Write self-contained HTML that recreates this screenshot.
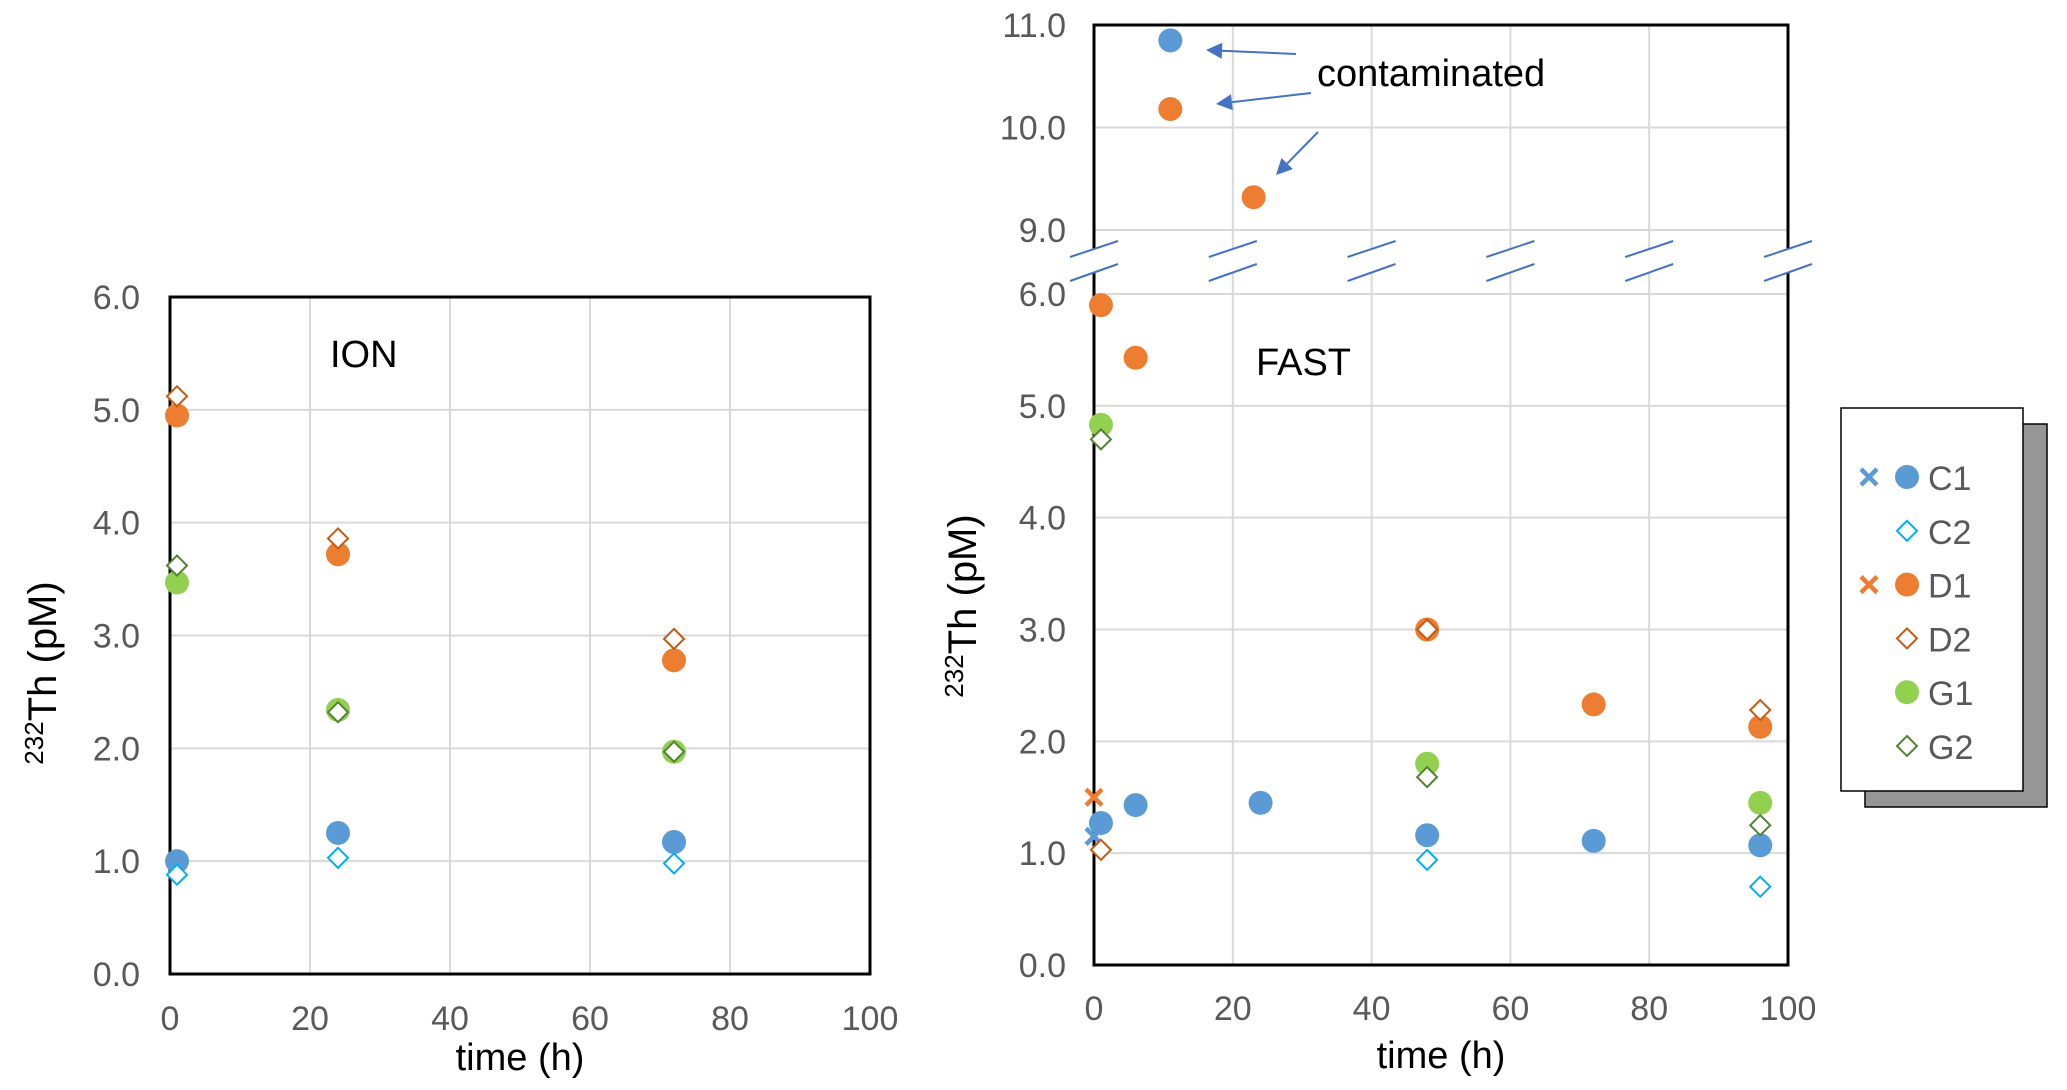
<!DOCTYPE html>
<html><head><meta charset="utf-8"><style>
html,body{margin:0;padding:0;background:#fff}
svg{display:block;font-family:"Liberation Sans",sans-serif}
</style></head><body>
<svg id="chart" width="2067" height="1090" viewBox="0 0 2067 1090" xmlns="http://www.w3.org/2000/svg">
<g id="ion"></g>
<g id="fast"></g>
<g id="legend"></g>
</svg>
<script>
const xTicks=[0,20,40,60,80,100];
const ionYTicks=[0,1,2,3,4,5,6];
const ionTimes=[1,24,72];
const ionC1=[1.0,1.25,1.17];
const ionC2=[0.88,1.03,0.98];
const ionD1=[4.95,3.72,2.78];
const ionD2=[5.12,3.86,2.97];
const ionG1=[3.47,2.34,1.97];
const ionG2=[3.62,2.32,1.97];

const fastYTicksLow=[0,1,2,3,4,5,6];
const fastYTicksHigh=[9,10,11];
const fastC1Times=[1,6,11,24,48,72,96];
const fastC1=[1.27,1.43,10.85,1.45,1.16,1.11,1.07];
const fastD1Times=[1,6,11,23,48,72,96];
const fastD1=[5.9,5.43,10.18,9.32,3.0,2.33,2.13];
const fastC1xTimes=[0];
const fastC1x=[1.15];
const fastD1xTimes=[0];
const fastD1x=[1.5];
const fastC2Times=[48,96];
const fastC2=[0.94,0.70];
const fastD2Times=[1,48,96];
const fastD2=[1.03,3.0,2.28];
const fastG1Times=[1,48,96];
const fastG1=[4.83,1.8,1.45];
const fastG2Times=[1,48,96];
const fastG2=[4.7,1.68,1.25];

const BLUE='#5b9bd5',LBLUE='#00b0f0',ORANGE='#ed7d31',DORANGE='#c55a11',GREEN='#92d050',DGREEN='#548235';
const NS='http://www.w3.org/2000/svg';
function mk(parent,tag,attrs,text){const e=document.createElementNS(NS,tag);for(const k in attrs)e.setAttribute(k,attrs[k]);if(text!==undefined)e.textContent=text;parent.appendChild(e);return e;}

function circle(g,x,y,c,name){const e=mk(g,'circle',{cx:x,cy:y,r:12,fill:c});

}
function diamond(g,x,y,c,name){const s=10;const e=mk(g,'polygon',{points:`${x},${y-s} ${x+s},${y} ${x},${y+s} ${x-s},${y}`,fill:'#fff',stroke:c,'stroke-width':2});

}
function cross(g,x,y,c,name){const s=8;const e=mk(g,'path',{d:`M${x-s},${y-s}L${x+s},${y+s}M${x-s},${y+s}L${x+s},${y-s}`,stroke:c,'stroke-width':4.5});

}

/* ION panel */
(function(){
const g=document.getElementById('ion');
const L=170,R=870,T=297,B=974;
const X=v=>L+(R-L)*v/100, Y=v=>B-(B-T)*v/6;
xTicks.forEach(t=>{if(t>0&&t<100){const l=mk(g,'line',{x1:X(t),x2:X(t),y1:T,y2:B,stroke:'#d9d9d9','stroke-width':2});

}
const tx=mk(g,'text',{x:X(t),y:B+56,'text-anchor':'middle','font-size':34,fill:'#595959'},t);

});
ionYTicks.forEach(t=>{if(t>0&&t<6){const l=mk(g,'line',{x1:L,x2:R,y1:Y(t),y2:Y(t),stroke:'#d9d9d9','stroke-width':2});

}
const tx=mk(g,'text',{x:140,y:Y(t)+12,'text-anchor':'end','font-size':34,fill:'#595959'},t.toFixed(1));

});
const fr=mk(g,'rect',{x:L,y:T,width:R-L,height:B-T,fill:'none',stroke:'#000','stroke-width':3});


const t1=mk(g,'text',{x:330,y:367,'font-size':38,fill:'#000'},'ION');


const xl=mk(g,'text',{x:(L+R)/2,y:1070,'text-anchor':'middle','font-size':38,fill:'#000'},'time (h)');


const yl=mk(g,'text',{x:0,y:0,'text-anchor':'middle','font-size':40,fill:'#000',transform:'translate(56,673) rotate(-90)'});


mk(yl,'tspan',{'font-size':26,dy:-13},'232');mk(yl,'tspan',{dy:13},'Th (pM)');
ionTimes.forEach((t,i)=>{
 circle(g,X(t),Y(ionC1[i]),BLUE,'ion-c1-point');
 diamond(g,X(t),Y(ionC2[i]),LBLUE,'ion-c2-point');
 circle(g,X(t),Y(ionD1[i]),ORANGE,'ion-d1-point');
 diamond(g,X(t),Y(ionD2[i]),DORANGE,'ion-d2-point');
 circle(g,X(t),Y(ionG1[i]),GREEN,'ion-g1-point');
 diamond(g,X(t),Y(ionG2[i]),DGREEN,'ion-g2-point');
});
})();

/* FAST panel */
(function(){
const g=document.getElementById('fast');
const L=1094,R=1788,T=25,B=965,T6=294,Y9=230;
const X=v=>L+(R-L)*v/100;
const Y=v=>v<=7?B-(B-T6)*v/6:Y9-(Y9-T)*(v-9)/2;
xTicks.forEach(t=>{if(t>0&&t<100){const l=mk(g,'line',{x1:X(t),x2:X(t),y1:T,y2:B,stroke:'#d9d9d9','stroke-width':2});

}
const tx=mk(g,'text',{x:X(t),y:B+55,'text-anchor':'middle','font-size':34,fill:'#595959'},t);

});
fastYTicksLow.concat(fastYTicksHigh).forEach(t=>{if(t>0&&t<11){const l=mk(g,'line',{x1:L,x2:R,y1:Y(t),y2:Y(t),stroke:'#d9d9d9','stroke-width':2});

}
const tx=mk(g,'text',{x:1066,y:Y(t)+12,'text-anchor':'end','font-size':34,fill:'#595959'},t.toFixed(1));

});
const fr=mk(g,'rect',{x:L,y:T,width:R-L,height:B-T,fill:'none',stroke:'#000','stroke-width':3});


xTicks.forEach(t=>{const x=X(t);
 const w=mk(g,'polygon',{points:`${x-24},${257} ${x+24},${241} ${x+24},${264} ${x-24},${281}`,fill:'#fff'});
 
 
 const p=mk(g,'path',{d:`M${x-24},${257}L${x+24},${241}M${x-24},${281}L${x+24},${264}`,stroke:'#4472c4','stroke-width':2,fill:'none'});
 
 });
const t1=mk(g,'text',{x:1256,y:375,'font-size':38,fill:'#000'},'FAST');


const xl=mk(g,'text',{x:(L+R)/2,y:1068,'text-anchor':'middle','font-size':38,fill:'#000'},'time (h)');


const yl=mk(g,'text',{x:0,y:0,'text-anchor':'middle','font-size':40,fill:'#000',transform:'translate(976,606) rotate(-90)'});


mk(yl,'tspan',{'font-size':26,dy:-13},'232');mk(yl,'tspan',{dy:13},'Th (pM)');
const an=mk(g,'text',{x:1317,y:86,'font-size':38,fill:'#000'},'contaminated');


[[1296,54,1206,50],[1311,93,1216,104],[1318,132,1276,175]].forEach(a=>{
 const dx=a[2]-a[0],dy=a[3]-a[1],len=Math.hypot(dx,dy),ux=dx/len,uy=dy/len;
 const hx=a[2]-ux*16,hy=a[3]-uy*16;
 const ar=mk(g,'g',{});
 
 
 mk(ar,'line',{x1:a[0],y1:a[1],x2:hx,y2:hy,stroke:'#4472c4','stroke-width':2});
 mk(ar,'polygon',{points:`${a[2]},${a[3]} ${hx-uy*8},${hy+ux*8} ${hx+uy*8},${hy-ux*8}`,fill:'#4472c4'});
});
fastC1xTimes.forEach((t,i)=>cross(g,X(t),Y(fastC1x[i]),BLUE,'fast-c1-cross'));
fastD1xTimes.forEach((t,i)=>cross(g,X(t),Y(fastD1x[i]),ORANGE,'fast-d1-cross'));
fastC1Times.forEach((t,i)=>circle(g,X(t),Y(fastC1[i]),BLUE,'fast-c1-point'));
fastC2Times.forEach((t,i)=>diamond(g,X(t),Y(fastC2[i]),LBLUE,'fast-c2-point'));
fastD1Times.forEach((t,i)=>circle(g,X(t),Y(fastD1[i]),ORANGE,'fast-d1-point'));
fastD2Times.forEach((t,i)=>diamond(g,X(t),Y(fastD2[i]),DORANGE,'fast-d2-point'));
fastG1Times.forEach((t,i)=>circle(g,X(t),Y(fastG1[i]),GREEN,'fast-g1-point'));
fastG2Times.forEach((t,i)=>diamond(g,X(t),Y(fastG2[i]),DGREEN,'fast-g2-point'));
})();

/* Legend */
(function(){
const g=document.getElementById('legend');
const sh=mk(g,'rect',{x:1865,y:424,width:182,height:383,fill:'#969696',stroke:'#000','stroke-width':1.5});


const bx=mk(g,'rect',{x:1841,y:408,width:182,height:383,fill:'#fff',stroke:'#000','stroke-width':1.5});


const rows=[['C1',BLUE,'c',true],['C2',LBLUE,'d',false],['D1',ORANGE,'c',true],['D2',DORANGE,'d',false],['G1',GREEN,'c',false],['G2',DGREEN,'d',false]];
rows.forEach((r,i)=>{const y=477+i*53.8;
 if(r[3])cross(g,1869,y,r[1],'legend-cross-'+r[0].toLowerCase());
 if(r[2]==='c')circle(g,1907,y,r[1],'legend-marker-'+r[0].toLowerCase());else diamond(g,1907,y,r[1],'legend-marker-'+r[0].toLowerCase());
 const t=mk(g,'text',{x:1928,y:y+13,'font-size':34,fill:'#595959'},r[0]);
 
 
});
})();
</script>
</body></html>
